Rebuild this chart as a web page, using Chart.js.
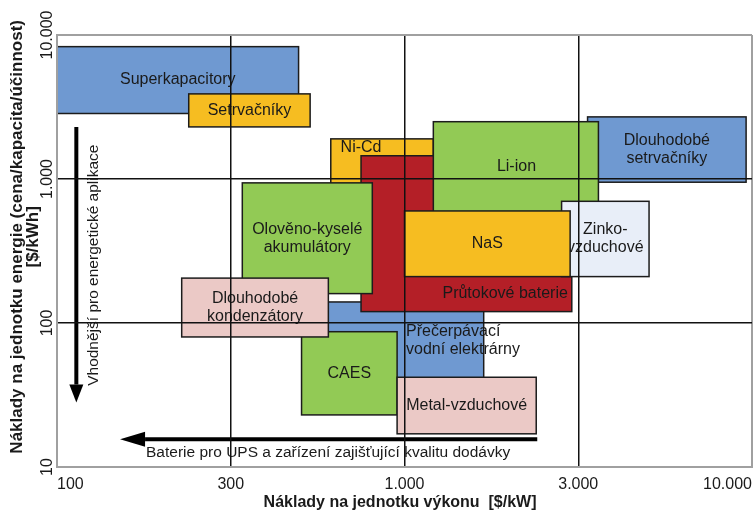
<!DOCTYPE html>
<html>
<head>
<meta charset="utf-8">
<script src="https://cdn.jsdelivr.net/npm/chart.js@4.4.1/dist/chart.umd.min.js"></script>
<style>
  html, body { margin: 0; padding: 0; background: #fff; }
  #chart { display: block; }
</style>
</head>
<body>
<canvas id="chart" width="753" height="518" style="width:753px;height:518px"></canvas>
<script>
const FONT = "'Liberation Sans', Arial, sans-serif";

// Technologies, listed in drawing order (later boxes sit on top)
const techNames = [
  'Superkapacitory', 'Setrvačníky', 'Dlouhodobé\nsetrvačníky', 'Ni-Cd',
  'Přečerpávací\nvodní elektrárny', 'Průtokové baterie', 'Li-ion',
  'Zinko-\nvzduchové', 'NaS', 'Olověno-kyselé\nakumulátory', 'CAES',
  'Dlouhodobé\nkondenzátory', 'Metal-vzduchové'
];
// cost per unit of power [$/kW]
const powerCostMin = [100, 230, 3200, 600, 500, 740, 1200, 2700, 1000, 325, 490, 220, 950];
const powerCostMax = [480, 520, 9600, 1200, 1650, 2880, 3450, 4900, 2850, 800, 950, 590, 2300];
// cost per unit of energy [$/kWh]
const energyCostMin = [2850, 2300, 950, 700, 41, 120, 400, 210, 210, 160, 23, 80, 17];
const energyCostMax = [8300, 3900, 2700, 1900, 140, 1450, 2500, 700, 600, 940, 87, 205, 42];

const xTicks = [100, 300, 1000, 3000, 10000];
const xTickLabels = ['100', '300', '1.000', '3.000', '10.000'];
const yTicks = [10, 100, 1000, 10000];
const yTickLabels = ['10', '100', '1.000', '10.000'];

const BLUE = '#6f99d1', YELLOW = '#f6bd21', GREEN = '#92ca55', RED = '#b41f27', PINK = '#ebc9c6', PALE = '#e8eef8';
const fillColors = [BLUE, YELLOW, BLUE, YELLOW, BLUE, RED, GREEN, PALE, YELLOW, GREEN, GREEN, PINK, PINK];

// boxes whose caption is not centred (anchor in axis units)
const labelAnchors = {
  3: { x: 740, y: 1660 },
  4: { x: 1010, y: 76, align: 'left' },
  5: { x: 1890, y: 160 },
  6: { x: 2030, y: 1210 }
};

// the two guide arrows (axis units)
const energyArrow = { x: 113, from: 2300, to: 28, text: 'Vhodnější pro energetické aplikace', textX: 126, textY: 252 };
const powerArrow = { y: 15.6, from: 2315, to: 149, text: 'Baterie pro UPS a zařízení zajišťující kvalitu dodávky', textX: 589, textY: 12.5 };

// Log axis whose labelled steps (100, 300, 1000, ...) are spaced evenly, as in the original figure
class SteppedLogScale extends Chart.LogarithmicScale {
  getPixelForValue(value) {
    const k = this.options.steps;
    let i = 0;
    while (i < k.length - 2 && value > k[i + 1]) i++;
    const f = Math.log10(value / k[i]) / Math.log10(k[i + 1] / k[i]);
    return this.getPixelForDecimal((i + f) / (k.length - 1));
  }
}
SteppedLogScale.id = 'steppedLog';
SteppedLogScale.defaults = Chart.LogarithmicScale.defaults;
Chart.register(SteppedLogScale);

function drawArrow(ctx, x0, y0, x1, y1, headLen, headHalf) {
  const ang = Math.atan2(y1 - y0, x1 - x0);
  ctx.lineWidth = 4;
  ctx.beginPath();
  ctx.moveTo(x0, y0);
  ctx.lineTo(x1 - headLen * Math.cos(ang), y1 - headLen * Math.sin(ang));
  ctx.stroke();
  ctx.save();
  ctx.translate(x1, y1);
  ctx.rotate(ang);
  ctx.beginPath();
  ctx.moveTo(0, 0);
  ctx.lineTo(-headLen, -headHalf);
  ctx.lineTo(-headLen, headHalf);
  ctx.closePath();
  ctx.fill();
  ctx.restore();
}

// Boxes are painted before the grid so the grid lines run over them
const boxesPlugin = {
  id: 'boxes',
  beforeDraw(chart) {
    const { ctx, scales: { x, y } } = chart;
    ctx.save();
    ctx.fillStyle = '#fff';
    ctx.fillRect(0, 0, chart.width, chart.height);

    chart.data.datasets.forEach((ds, i) => {
      const [p0, p1] = ds.data;
      const l = x.getPixelForValue(p0.x), r = x.getPixelForValue(p1.x);
      const t = y.getPixelForValue(p1.y), b = y.getPixelForValue(p0.y);
      ctx.fillStyle = ds.backgroundColor;
      ctx.fillRect(l, t, r - l, b - t);
      ctx.lineWidth = 1.5;
      ctx.strokeStyle = '#1c1c1c';
      ctx.strokeRect(l, t, r - l, b - t);

      const a = labelAnchors[i];
      const lx = a ? x.getPixelForValue(a.x) : (l + r) / 2;
      const ly = a ? y.getPixelForValue(a.y) : (t + b) / 2;
      ctx.fillStyle = '#1a1a1a';
      ctx.font = '16px ' + FONT;
      ctx.textAlign = (a && a.align) || 'center';
      ctx.textBaseline = 'middle';
      const lines = ds.label.split('\n');
      lines.forEach((s, k) => ctx.fillText(s, lx, ly + (k - (lines.length - 1) / 2) * 18));
    });

    // guide arrows
    ctx.fillStyle = '#000';
    ctx.strokeStyle = '#000';
    const ex = x.getPixelForValue(energyArrow.x);
    drawArrow(ctx, ex, y.getPixelForValue(energyArrow.from), ex, y.getPixelForValue(energyArrow.to), 18, 7);
    const py = y.getPixelForValue(powerArrow.y);
    drawArrow(ctx, x.getPixelForValue(powerArrow.from), py, x.getPixelForValue(powerArrow.to), py, 25, 7.5);

    ctx.fillStyle = '#1a1a1a';
    ctx.font = '15.5px ' + FONT;
    ctx.textAlign = 'center';
    ctx.textBaseline = 'middle';
    ctx.fillText(powerArrow.text, x.getPixelForValue(powerArrow.textX), y.getPixelForValue(powerArrow.textY));
    ctx.save();
    ctx.translate(x.getPixelForValue(energyArrow.textX), y.getPixelForValue(energyArrow.textY));
    ctx.rotate(-Math.PI / 2);
    ctx.fillText(energyArrow.text, 0, 0);
    ctx.restore();
    ctx.restore();
  }
};

const datasets = techNames.map((name, i) => ({
  label: name,
  data: [{ x: powerCostMin[i], y: energyCostMin[i] }, { x: powerCostMax[i], y: energyCostMax[i] }],
  backgroundColor: fillColors[i],
  pointRadius: 0,
  pointHoverRadius: 0,
  showLine: false
}));

const isEdge = (v, lo, hi) => v === lo || v === hi;

new Chart(document.getElementById('chart').getContext('2d'), {
  type: 'scatter',
  data: { datasets },
  plugins: [boxesPlugin],
  options: {
    responsive: false,
    animation: false,
    layout: { padding: { top: 35, right: 1, left: 0, bottom: 0 } },
    plugins: { legend: { display: false }, tooltip: { enabled: false } },
    scales: {
      x: {
        type: 'steppedLog',
        steps: xTicks,
        min: 100,
        max: 10000,
        afterBuildTicks: s => { s.ticks = xTicks.map(v => ({ value: v })); },
        afterFit: s => { s.height = 51; s.paddingLeft = 0; s.paddingRight = 0; },
        ticks: {
          autoSkip: false,
          minRotation: 0,
          maxRotation: 0,
          align: 'inner',
          padding: 8,
          color: '#1a1a1a',
          font: { family: FONT, size: 16 },
          callback: (v, i) => xTickLabels[i]
        },
        grid: {
          drawTicks: false,
          color: c => (c.tick && isEdge(c.tick.value, 100, 10000)) ? '#a0a0a0' : '#111',
          lineWidth: c => (c.tick && isEdge(c.tick.value, 100, 10000)) ? 2 : 1.5
        },
        border: { color: '#a0a0a0', width: 2 },
        title: {
          display: true,
          text: 'Náklady na jednotku výkonu  [$/kW]  ',
          color: '#1a1a1a',
          font: { family: FONT, size: 16, weight: 'bold' },
          padding: { top: 0, bottom: 6 }
        }
      },
      y: {
        type: 'logarithmic',
        min: 10,
        max: 10000,
        afterBuildTicks: s => { s.ticks = yTicks.map(v => ({ value: v })); },
        afterFit: s => { s.width = 57; },
        ticks: {
          autoSkip: false,
          minRotation: 90,
          maxRotation: 90,
          crossAlign: 'center',
          padding: -15,
          color: '#1a1a1a',
          font: { family: FONT, size: 16 },
          callback: (v, i) => yTickLabels[i]
        },
        grid: {
          drawTicks: false,
          color: c => (c.tick && isEdge(c.tick.value, 10, 10000)) ? '#a0a0a0' : '#111',
          lineWidth: c => (c.tick && isEdge(c.tick.value, 10, 10000)) ? 2 : 1.5
        },
        border: { color: '#a0a0a0', width: 2 },
        title: {
          display: true,
          text: ['      Náklady na jednotku energie (cena/kapacita/účinnost)', '      [$/kWh]'],
          color: '#1a1a1a',
          font: { family: FONT, size: 17, weight: 'bold', lineHeight: 0.9 },
          padding: { top: 10, bottom: 0 }
        }
      }
    }
  }
});
</script>
</body>
</html>
